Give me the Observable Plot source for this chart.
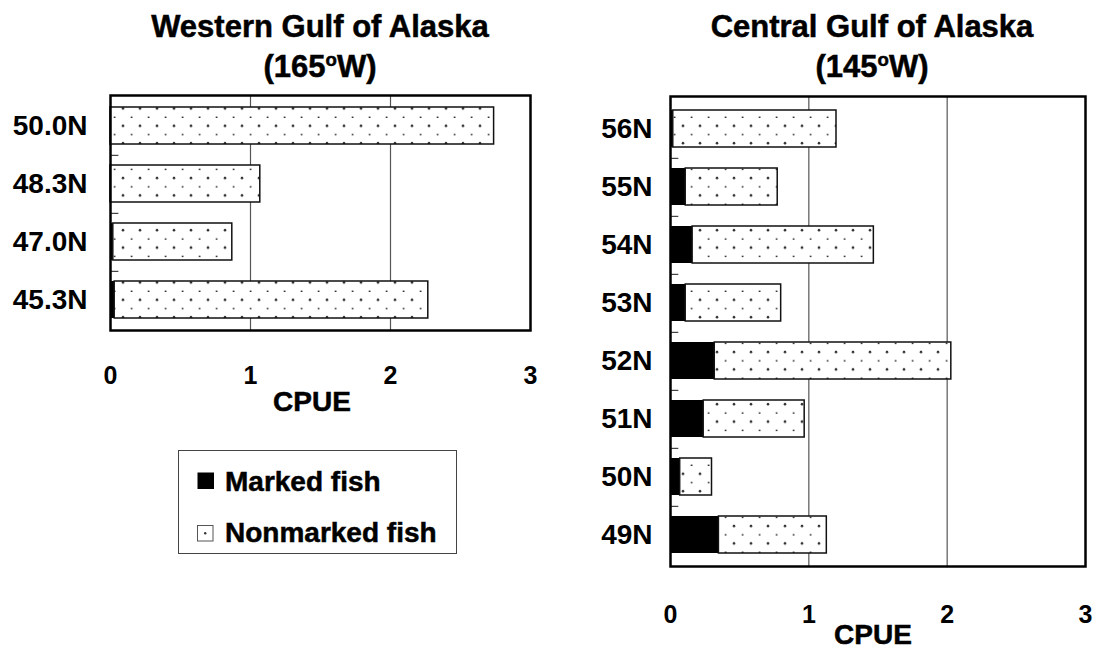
<!DOCTYPE html>
<html><head><meta charset="utf-8">
<script src="https://cdn.jsdelivr.net/npm/d3@7"></script>
<script src="https://cdn.jsdelivr.net/npm/@observablehq/plot@0.6"></script>
<style>
body{margin:0;background:#fff;font-family:"Liberation Sans",Arial,sans-serif;font-weight:bold;color:#000}
#wrap{position:relative;width:1096px;height:655px;overflow:hidden;background:#fff}
.abs{position:absolute;white-space:nowrap}
.title{font-size:31px;line-height:40px;text-align:center;width:500px;z-index:5;-webkit-text-stroke:0.5px #000}
.sup{font-size:0.6em;vertical-align:0.6em;line-height:0}
.lab{font-size:28px;line-height:28px;-webkit-text-stroke:0.5px #000}
#legend{position:absolute;left:178px;top:450px;width:279px;height:104px;border:1px solid #444;box-sizing:border-box;z-index:5}
</style>
</head><body>
<svg width="0" height="0" style="position:absolute">
  <defs>
    <pattern id="dots" patternUnits="userSpaceOnUse" width="17" height="17.4">
      <rect width="17" height="17.4" fill="#fff"/>
      <circle cx="4" cy="4" r="1.3" fill="#333"/>
      <rect x="11.7" y="12.2" width="1.8" height="1.3" fill="#222"/>
    </pattern>
  </defs>
</svg>
<div id="wrap">
  <div id="left" class="abs" style="left:0;top:0"></div>
  <div id="right" class="abs" style="left:560px;top:0"></div>
  <div class="abs title" style="left:70px;top:7px">Western Gulf of Alaska<br>(165<span class="sup">o</span>W)</div>
  <div class="abs title" style="left:622px;top:7px">Central Gulf of Alaska<br>(145<span class="sup">o</span>W)</div>
  <div class="abs lab" style="left:212px;width:200px;text-align:center;top:388px;z-index:5">CPUE</div>
  <div class="abs lab" style="left:773px;width:200px;text-align:center;top:621px;z-index:5">CPUE</div>
  <div id="legend"></div>
</div>
<script>
// ---- data ----
const xTicks = [0, 1, 2, 3];
const seriesNames = ["Marked fish", "Nonmarked fish"];

const westLat = ["50.0N", "48.3N", "47.0N", "45.3N"];
const westMarked = [0, 0, 0.02, 0.03];
const westNonmarked = [2.74, 1.07, 0.85, 2.24];

const centralLat = ["56N", "55N", "54N", "53N", "52N", "51N", "50N", "49N"];
const centralMarked = [0.02, 0.11, 0.16, 0.11, 0.32, 0.24, 0.07, 0.35];
const centralNonmarked = [1.18, 0.665, 1.31, 0.69, 1.71, 0.73, 0.23, 0.78];

function panel(lat, marked, nonmarked, o) {
  const rows = lat.map((l, i) => ({lat: l, marked: marked[i], nonmarked: nonmarked[i]}));
  const step = (o.height - o.mt - o.mb) / lat.length;
  const txt = {fontWeight: "bold", stroke: "#000", strokeWidth: 0.6, paintOrder: "stroke"};
  return Plot.plot({
    width: o.width, height: o.height,
    marginLeft: o.ml, marginRight: o.mr, marginTop: o.mt, marginBottom: o.mb,
    style: {fontFamily: '"Liberation Sans", Arial, sans-serif', background: "transparent", color: "#000", overflow: "visible"},
    x: {domain: [0, 3]},
    y: {domain: lat, paddingInner: 0.37, paddingOuter: 0.185, align: 0.5},
    marks: [
      Plot.ruleX([1, 2], {stroke: "#555", strokeWidth: 1.2}),
      Plot.ruleY(lat.slice(0, -1), {x1: () => 0, x2: () => 0.06, dy: step / 2, stroke: "#444", strokeWidth: 1.2}),
      Plot.barX(rows, {y: "lat", x1: () => 0, x2: "marked", fill: "#000"}),
      Plot.barX(rows, {y: "lat", x1: "marked", x2: d => d.marked + d.nonmarked, fill: "url(#dots)", stroke: "#111", strokeWidth: 1.5}),
      Plot.frame({stroke: "#000", strokeWidth: 2.5}),
      Plot.axisX({ticks: xTicks, tickFormat: d3.format("d"), tickSize: 0, tickPadding: o.xpad, fontSize: 25, label: null, ...txt}),
      Plot.axisY({tickSize: 0, tickPadding: o.ypad, fontSize: 28, label: null, ...txt})
    ]
  });
}

document.getElementById("left").append(panel(westLat, westMarked, westNonmarked,
  {width: 560, height: 420, ml: 110, mr: 30, mt: 95, mb: 90, xpad: 36, ypad: 23}));
document.getElementById("right").append(panel(centralLat, centralMarked, centralNonmarked,
  {width: 536, height: 655, ml: 110, mr: 11, mt: 96, mb: 89, xpad: 39, ypad: 18}));

// ---- legend ----
const leg = d3.select("#legend");
const swatches = [
  `<svg width="18" height="18" style="position:absolute;left:18px;top:0"><rect x="0.5" y="0.5" width="16.5" height="16.5" fill="#000"/></svg>`,
  `<svg width="18" height="18" style="position:absolute;left:18px;top:0"><rect x="0.5" y="0.5" width="15.5" height="15.5" fill="#fff" stroke="#555"/><circle cx="8.2" cy="8.2" r="1.2" fill="#333"/></svg>`
];
const rowTop = [21, 74];
seriesNames.forEach((name, i) => {
  const r = leg.append("div").attr("class", "abs").style("left", "0px").style("top", rowTop[i] + "px").style("width", "270px").style("height", "30px");
  r.html(swatches[i]);
  r.append("div").attr("class", "abs lab").style("left", "46px").style("top", (i === 0 ? -4 : -6) + "px").text(name);
});
</script>
</body></html>
